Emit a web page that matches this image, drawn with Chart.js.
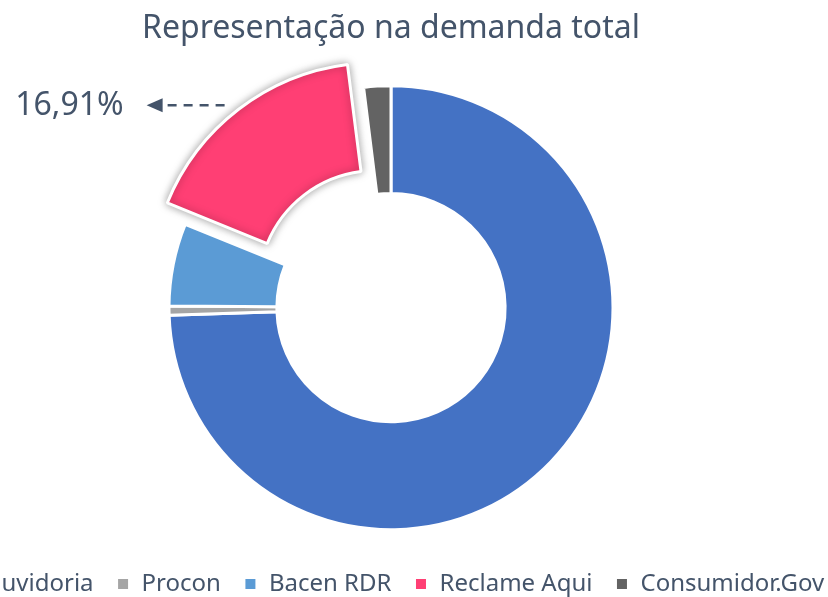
<!DOCTYPE html>
<html>
<head>
<meta charset="utf-8">
<script src="https://cdn.jsdelivr.net/npm/chart.js@4.4.1/dist/chart.umd.min.js"></script>
<style>
  html, body { margin: 0; padding: 0; background: #fff; overflow: hidden; }
  body { width: 828px; height: 597px; position: relative; }
  #wrap { position: absolute; left: -89px; top: 0; width: 960px; height: 597px; }
</style>
</head>
<body>
<div id="wrap"><canvas id="donut" width="960" height="597"></canvas></div>
<script>
/* ================= DATA ================= */
const canais = ["Ouvidoria", "Procon", "Bacen RDR", "Reclame Aqui", "Consumidor.Gov"];
const percentuais = [74.45, 0.67, 6.0, 16.91, 1.97];
const cores = ["#4472C4", "#A5A5A5", "#5B9BD5", "#FF3F74", "#636363"];
const destaque = 3; // fatia destacada (Reclame Aqui)

const textColor = "#44546A";
const fontFamily = "'Noto Sans', 'Open Sans', sans-serif";

/* ================= LABEL + SETA ================= */
const labelDestaque = {
  id: "labelDestaque",
  afterDatasetsDraw(chart) {
    const ctx = chart.ctx;
    const arc = chart.getDatasetMeta(0).data[destaque];
    const p = arc.getProps(["x", "y", "startAngle", "endAngle", "outerRadius", "circumference"], true);
    const off = (arc.options.offset || 0) / 4;
    const fix = 1 - Math.sin(Math.min(Math.PI, p.circumference || 0));
    const shift = off * (1 + fix);
    const mid = (p.startAngle + p.endAngle) / 2;

    // sombra da fatia destacada
    ctx.save();
    ctx.shadowColor = "rgba(0,0,0,0.35)";
    ctx.shadowBlur = 9;
    arc.draw(ctx);
    ctx.restore();

    // ponto de saida da seta
    const px = p.x + Math.cos(mid) * (p.outerRadius + shift) - 14;
    const py = p.y + Math.sin(mid) * (p.outerRadius + shift) - 4;
    const tipX = px - 78;

    ctx.save();
    ctx.strokeStyle = textColor;
    ctx.fillStyle = textColor;
    ctx.lineWidth = 2.5;
    ctx.setLineDash([9, 7]);
    ctx.beginPath();
    ctx.moveTo(px, py);
    ctx.lineTo(tipX + 12, py);
    ctx.stroke();
    ctx.setLineDash([]);
    ctx.beginPath();
    ctx.moveTo(tipX, py);
    ctx.lineTo(tipX + 16, py - 7);
    ctx.lineTo(tipX + 16, py + 7);
    ctx.closePath();
    ctx.fill();

    const total = percentuais.reduce((a, b) => a + b, 0);
    const txt = (percentuais[destaque] / total * 100).toFixed(2).replace(".", ",") + "%";
    ctx.font = "32px " + fontFamily;
    ctx.textAlign = "right";
    ctx.textBaseline = "middle";
    ctx.fillText(txt, tipX - 23, py + 1);
    ctx.restore();
  }
};

/* ================= CHART ================= */
new Chart(document.getElementById("donut"), {
  type: "doughnut",
  data: {
    labels: canais,
    datasets: [{
      data: percentuais,
      backgroundColor: cores,
      borderColor: "#ffffff",
      borderWidth: 3,
      offset: canais.map((c, i) => i === destaque ? 100 : 0),
      radius: 222,
      cutout: "51.4%"
    }]
  },
  options: {
    responsive: false,
    devicePixelRatio: 1,
    animation: false,
    events: [],
    layout: { padding: { top: 0, bottom: -9, left: 0, right: 0 } },
    plugins: {
      title: {
        display: true,
        text: "Representação na demanda total",
        color: textColor,
        font: { family: fontFamily, size: 32, weight: "normal" },
        padding: { top: 10, bottom: 18 }
      },
      legend: {
        position: "bottom",
        labels: {
          color: textColor,
          font: { family: fontFamily, size: 24 },
          boxWidth: 13,
          boxHeight: 13,
          padding: 23
        }
      },
      tooltip: { enabled: false }
    }
  },
  plugins: [labelDestaque]
});
</script>
</body>
</html>
